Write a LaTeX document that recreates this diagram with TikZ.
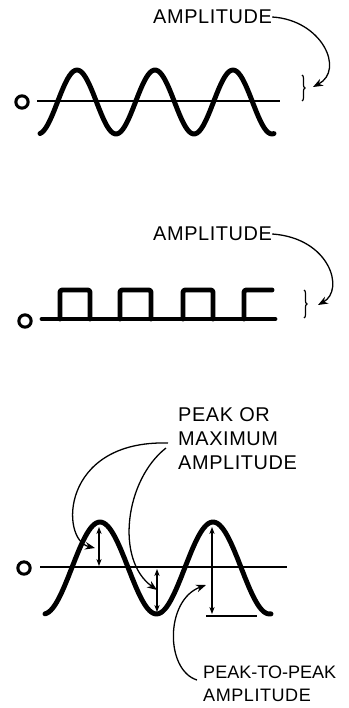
\documentclass[tikz,border=0pt]{standalone}
\usepackage{fontspec}
\newfontfamily\handfont[LetterSpace=3]{Liberation Sans}
\newfontfamily\handtight{Liberation Sans}
\usetikzlibrary{arrows.meta, decorations.pathreplacing, positioning}

\begin{document}
\begin{tikzpicture}[x=0.03cm, y=-0.03cm,
        wave/.style={line width=4.2pt, line cap=round, line join=round},
        axis/.style={line width=1.5pt},
        zero/.style={circle, draw, line width=2.6pt, minimum size=10.5pt, inner sep=0pt},
        lbl/.style={font=\handfont\fontsize{17}{20.4}\selectfont, inner sep=0pt, align=left},
        callout/.style={-{Stealth[length=8.5pt, width=6.5pt]}, line width=1.1pt},
        measure/.style={{Stealth[length=6pt, width=4.5pt]}-{Stealth[length=6pt, width=4.5pt]}, line width=1pt},
        curly/.style={decorate, decoration={brace, amplitude=2.5pt}, line width=1pt}
    ]
        \useasboundingbox (0,0) rectangle (349,708);

        % sine wave
        \node[zero] (zeroA) at (22,102) {};
        \draw[axis] (37,101) -- (280,101);
        \draw[wave] plot[domain=40:274, samples=120] (\x, {102-32*cos(360/78*(\x-77))});
        \node[lbl, anchor=west] (ampA) at (153,17) {AMPLITUDE};
        \coordinate (braceA) at (313,87);
        \draw[callout] (ampA.east) .. controls (322,20) and (345,70) .. (braceA);
        \draw[curly] (302,75) -- (302,101);

        % square wave
        \node[zero] (zeroB) at (25,321) {};
        \draw[wave] (42,319) -- (275,319);
        \draw[wave, rounded corners=2pt]
            (60,319) -- (60,290) -- (90,290) -- (90,319)
            (120,319) -- (120,290) -- (151,290) -- (151,319)
            (183,319) -- (183,290) -- (213,290) -- (213,319)
            (244,319) -- (244,290) -- (272,290);
        \node[lbl, anchor=west] (ampB) at (153,234) {AMPLITUDE};
        \coordinate (braceB) at (318,305);
        \draw[callout] (ampB.east) .. controls (330,238) and (345,290) .. (braceB);
        \draw[curly] (304,290) -- (304,318);

        % peak and peak-to-peak
        \node[zero] (zeroC) at (24,568) {};
        \draw[axis] (40,567) -- (287,567);
        \draw[wave] plot[domain=45:271, samples=120] (\x, {568-46*cos(360/113*(\x-100))});
        \coordinate (topA) at (99,527);
        \coordinate (midA) at (99,566);
        \coordinate (midB) at (157,569);
        \coordinate (botB) at (157,612);
        \coordinate (topC) at (212,527);
        \coordinate (botC) at (212,614);
        \draw[measure] (topA) -- (midA);
        \draw[measure] (midB) -- (botB);
        \draw[measure] (topC) -- (botC);
        \draw[axis] (206,616) -- (257,616);

        \node[lbl, anchor=west] (peak) at (178,439) {PEAK OR\\MAXIMUM\\AMPLITUDE};
        \node[lbl, anchor=west, font=\handtight\fontsize{15.4}{19.5}\selectfont] (p2p) at (203,684)
            {PEAK-TO-PEAK\\{\handfont AMPLITUDE}};
        \coordinate (peakAtip) at (95,548);
        \coordinate (peakBtip) at (157,590);
        \coordinate (p2ptip) at (206,585);
        \draw[callout] ([shift={(-10,4)}]peak.west) .. controls (60,440) and (60,540) .. (peakAtip);
        \draw[callout] ([shift={(-12,9)}]peak.west) .. controls (125,480) and (115,560) .. (peakBtip);
        \draw[callout] ([shift={(-6,-4)}]p2p.west) .. controls (165,670) and (165,600) .. (p2ptip);
    \end{tikzpicture}
\end{document}
